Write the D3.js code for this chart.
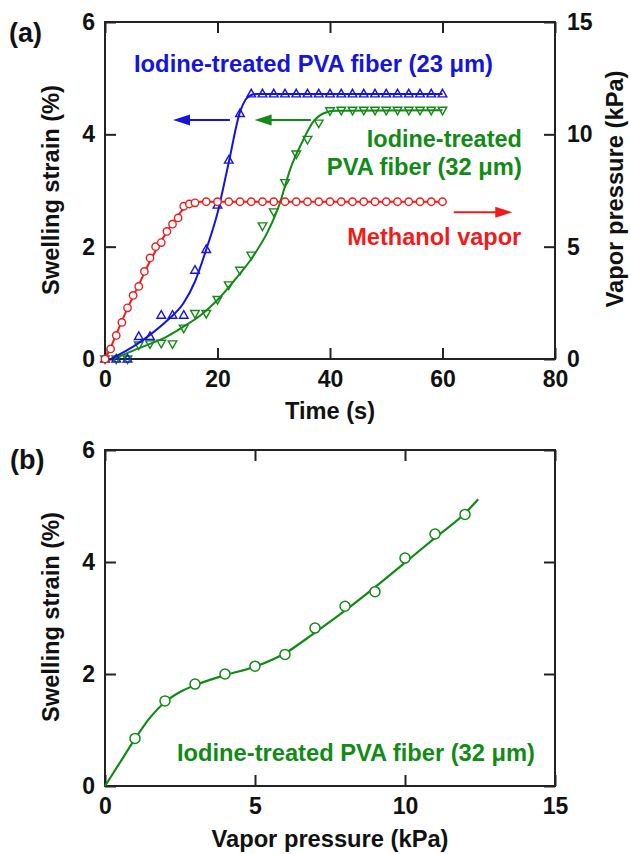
<!DOCTYPE html>
<html>
<head>
<meta charset="utf-8">
<script src="https://cdn.jsdelivr.net/npm/d3@7"></script>
<style>
  html, body { margin: 0; padding: 0; background: #fff; }
  svg text { font-family: "Liberation Sans", Arial, sans-serif; font-weight: bold; }
</style>
</head>
<body>
<svg id="chart" width="631" height="854"></svg>
<script>
// ---------------- Panel (a) data ----------------
// Methanol vapor pressure (kPa, right axis)
const redTime = [0,1,2,3,4,5,6,7,8,9,10,11,12,13,14,15,16,18,20,22,24,26,28,30,32,34,36,38,40,42,44,46,48,50,52,54,56,58,60];
const redKPa  = [0,0.45,1.05,1.63,2.28,2.83,3.23,3.9,4.5,5.0,5.18,5.68,6.0,6.28,6.8,6.9,6.95,7,7,7,7,7,7,7,7,7,7,7,7,7,7,7,7,7,7,7,7,7,7];
const redFitTime = [0,1,2,4,6,8,10,12,13,14,15,16,17,18,60];
const redFitKPa  = [0,0.5,1.1,2.25,3.3,4.35,5.25,6.05,6.4,6.7,6.88,6.97,7,7,7];

// Iodine-treated PVA fiber (23 um), swelling strain (%)
const triTime = [0,2,4,6,8,10,12,14,16,18,20,22,24,26,28,30,32,34,36,38,40,42,44,46,48,50,52,54,56,58,60];
const blueStrain  = [0,0,0,0.4,0.4,0.78,0.78,0.78,1.58,1.95,2.74,3.54,4.37,4.72,4.72,4.72,4.72,4.72,4.72,4.72,4.72,4.72,4.72,4.72,4.72,4.72,4.72,4.72,4.72,4.72,4.72];
const blueFitTime   = [1,2,5,8,11,14,16,18,20,22,24,25,26,27,60];
const blueFitStrain = [0,0.05,0.22,0.43,0.68,1.0,1.38,1.95,2.6,3.5,4.4,4.62,4.7,4.72,4.72];

// Iodine-treated PVA fiber (32 um), swelling strain (%)
const greenStrain = [0,0,0,0.25,0.27,0.28,0.27,0.55,0.81,0.81,1.06,1.32,1.58,1.85,2.37,2.62,3.14,3.65,3.91,4.2,4.42,4.43,4.43,4.43,4.43,4.43,4.43,4.43,4.43,4.43,4.43];
const greenFitTime   = [1.5,5,8,11,14,17,20,23,26,29,31,33,35,37,39,41,60];
const greenFitStrain = [0,0.15,0.27,0.4,0.58,0.78,1.05,1.4,1.78,2.28,2.75,3.4,3.85,4.22,4.38,4.42,4.43];

const xTicksA = [0,20,40,60,80];
const yTicksA = [0,2,4,6];
const yRTicksA = [0,5,10,15];

// ---------------- Panel (b) data ----------------
const pressureB = [1,2,3,4,5,6,7,8,9,10,11,12];
const strainB   = [0.85,1.52,1.82,2.0,2.14,2.35,2.82,3.21,3.47,4.07,4.5,4.85];
const fitPressureB = [0,0.5,1,1.5,2,2.5,3,4,5,6,7,8,9,10,11,12,12.44];
const fitStrainB   = [0,0.42,0.84,1.22,1.5,1.68,1.8,1.98,2.13,2.37,2.74,3.13,3.55,3.99,4.43,4.87,5.12];
const xTicksB = [0,5,10,15];
const yTicksB = [0,2,4,6];

// ---------------- styles ----------------
const RED = "#f01c1c", BLUE = "#1414dc", GREEN = "#128a16", AX = "#222";
const FS = 23;
const fmt = d3.format("d");

const svg = d3.select("#chart");
svg.append("rect").attr("width",631).attr("height",854).attr("fill","#fff");

function frame(g, x, y) {
  const [x0,x1] = x.range(), [y0,y1] = y.range();
  g.append("rect").attr("x",x0).attr("y",y1).attr("width",x1-x0).attr("height",y0-y1)
    .attr("fill","none").attr("stroke",AX).attr("stroke-width",2);
}
function styleAxis(sel) {
  sel.select(".domain").remove();
  sel.selectAll(".tick line").attr("stroke",AX).attr("stroke-width",2);
  sel.selectAll(".tick text").attr("fill","#111").style("font-size",FS+"px")
     .style("font-family","'Liberation Sans', Arial, sans-serif").style("font-weight","bold");
}
function label(g, txt, len) {
  return g.append("text").attr("textLength", len).attr("lengthAdjust","spacingAndGlyphs")
    .style("font-size",FS+"px").text(txt);
}
function arrow(g, x1, y1, x2, y2, color) {
  const dir = Math.sign(x2-x1), L = 17, W = 5.5;
  g.append("line").attr("x1",x1).attr("y1",y1).attr("x2",x2 - dir*L*0.6).attr("y2",y2)
    .attr("stroke",color).attr("stroke-width",2);
  g.append("path").attr("d",`M${x2},${y2}L${x2-dir*L},${y2-W}L${x2-dir*L},${y2+W}Z`).attr("fill",color);
}
const triUp = "M0,-4.6L4.3,3L-4.3,3Z";
const triDown = "M0,4.6L4.3,-3L-4.3,-3Z";

// ================= Panel (a) =================
const xA = d3.scaleLinear().domain([0,80]).range([105,555]);
const yA = d3.scaleLinear().domain([0,6]).range([359,22]);
const yAR = d3.scaleLinear().domain([0,15]).range([359,22]);
const gA = svg.append("g");

gA.append("g").attr("transform","translate(0,359)")
  .call(d3.axisBottom(xA).tickValues(xTicksA).tickFormat(fmt).tickSizeInner(-11).tickSizeOuter(0).tickPadding(12)).call(styleAxis);
gA.append("g").attr("transform","translate(0,22)")
  .call(d3.axisTop(xA).tickValues(xTicksA).tickSizeInner(-11).tickSizeOuter(0).tickFormat("")).call(styleAxis);
gA.append("g").attr("transform","translate(105,0)")
  .call(d3.axisLeft(yA).tickValues(yTicksA).tickFormat(fmt).tickSizeInner(-11).tickSizeOuter(0).tickPadding(10)).call(styleAxis);
gA.append("g").attr("transform","translate(555,0)")
  .call(d3.axisRight(yAR).tickValues(yRTicksA).tickFormat(fmt).tickSizeInner(-11).tickSizeOuter(0).tickPadding(12)).call(styleAxis);
frame(gA, xA, yA);

const lineA = d3.line().curve(d3.curveMonotoneX);
// green
gA.append("path").attr("d", lineA(greenFitTime.map((t,i)=>[xA(t), yA(greenFitStrain[i])])))
  .attr("fill","none").attr("stroke",GREEN).attr("stroke-width",2);
gA.selectAll(".gtri").data(triTime.map((t,i)=>[t, greenStrain[i]])).join("path")
  .attr("transform", d=>`translate(${xA(d[0])},${yA(d[1])})`).attr("d",triDown)
  .attr("fill","none").attr("stroke",GREEN).attr("stroke-width",1.4);
// blue
gA.append("path").attr("d", lineA(blueFitTime.map((t,i)=>[xA(t), yA(blueFitStrain[i])])))
  .attr("fill","none").attr("stroke",BLUE).attr("stroke-width",2);
gA.selectAll(".btri").data(triTime.map((t,i)=>[t, blueStrain[i]])).join("path")
  .attr("transform", d=>`translate(${xA(d[0])},${yA(d[1])})`).attr("d",triUp)
  .attr("fill","none").attr("stroke",BLUE).attr("stroke-width",1.4);
// red
gA.append("path").attr("d", lineA(redFitTime.map((t,i)=>[xA(t), yAR(redFitKPa[i])])))
  .attr("fill","none").attr("stroke",RED).attr("stroke-width",2);
gA.selectAll(".rc").data(redTime.map((t,i)=>[t, redKPa[i]])).join("circle")
  .attr("cx", d=>xA(d[0])).attr("cy", d=>yAR(d[1])).attr("r",3.7)
  .attr("fill","#fff").attr("stroke",RED).attr("stroke-width",1.4);

// arrows (data coordinates)
arrow(gA, xA(22.2), yA(4.255), xA(12.1), yA(4.255), BLUE);
arrow(gA, xA(36.6), yA(4.255), xA(26.6), yA(4.255), GREEN);
arrow(gA, xA(62.0), yAR(6.53), xA(72.4), yAR(6.53), RED);

// annotations
label(gA, "Iodine-treated PVA fiber (23 \u03bcm)", 359).attr("x", xA(5.16)).attr("y", yA(5.11)).attr("fill",BLUE);
label(gA, "Iodine-treated", 155).attr("x", xA(74.1)).attr("y", yA(3.774)).attr("text-anchor","end").attr("fill",GREEN);
label(gA, "PVA fiber (32 \u03bcm)", 195).attr("x", xA(74.1)).attr("y", yA(3.276)).attr("text-anchor","end").attr("fill",GREEN);
label(gA, "Methanol vapor", 174).attr("x", xA(74.0)).attr("y", yA(2.03)).attr("text-anchor","end").attr("fill",RED);

// titles
label(gA, "Time (s)", 90).attr("x",330).attr("y",419).attr("text-anchor","middle").attr("fill","#111");
label(gA, "Swelling strain (%)", 210).attr("transform","translate(59,190) rotate(-90)").attr("text-anchor","middle").attr("fill","#111");
label(gA, "Vapor pressure (kPa)", 237).attr("transform","translate(623,189) rotate(-90)").attr("text-anchor","middle").attr("fill","#111");
gA.append("text").attr("x",9).attr("y",42).attr("fill","#111").style("font-size","27px").text("(a)");

// ================= Panel (b) =================
const xB = d3.scaleLinear().domain([0,15]).range([105,555]);
const yB = d3.scaleLinear().domain([0,6]).range([786,450]);
const gB = svg.append("g");

gB.append("g").attr("transform","translate(0,786)")
  .call(d3.axisBottom(xB).tickValues(xTicksB).tickFormat(fmt).tickSizeInner(-11).tickSizeOuter(0).tickPadding(12)).call(styleAxis);
gB.append("g").attr("transform","translate(0,450)")
  .call(d3.axisTop(xB).tickValues(xTicksB).tickSizeInner(-11).tickSizeOuter(0).tickFormat("")).call(styleAxis);
gB.append("g").attr("transform","translate(105,0)")
  .call(d3.axisLeft(yB).tickValues(yTicksB).tickFormat(fmt).tickSizeInner(-11).tickSizeOuter(0).tickPadding(10)).call(styleAxis);
gB.append("g").attr("transform","translate(555,0)")
  .call(d3.axisRight(yB).tickValues(yTicksB).tickSizeInner(-11).tickSizeOuter(0).tickFormat("")).call(styleAxis);
frame(gB, xB, yB);

gB.append("path").attr("d", d3.line().curve(d3.curveMonotoneX)(fitPressureB.map((p,i)=>[xB(p), yB(fitStrainB[i])])))
  .attr("fill","none").attr("stroke",GREEN).attr("stroke-width",2.2);
gB.selectAll(".bc").data(pressureB.map((p,i)=>[p, strainB[i]])).join("circle")
  .attr("cx", d=>xB(d[0])).attr("cy", d=>yB(d[1])).attr("r",5)
  .attr("fill","#fff").attr("stroke",GREEN).attr("stroke-width",1.5);

label(gB, "Iodine-treated PVA fiber (32 \u03bcm)", 358).attr("x", xB(2.4)).attr("y", yB(0.44)).attr("fill",GREEN);

label(gB, "Vapor pressure (kPa)", 237).attr("x",330).attr("y",847).attr("text-anchor","middle").attr("fill","#111");
label(gB, "Swelling strain (%)", 210).attr("transform","translate(59,617) rotate(-90)").attr("text-anchor","middle").attr("fill","#111");
gB.append("text").attr("x",10).attr("y",469).attr("fill","#111").style("font-size","27px").text("(b)");
</script>
</body>
</html>
